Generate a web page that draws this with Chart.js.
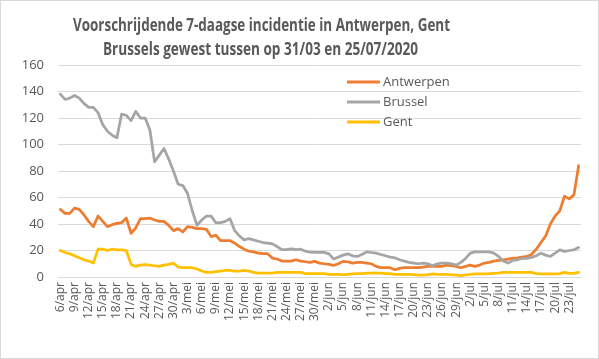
<!DOCTYPE html>
<html>
<head>
<meta charset="utf-8">
<script src="https://cdn.jsdelivr.net/npm/chart.js@4/dist/chart.umd.min.js"></script>
<style>
  html, body { margin: 0; padding: 0; background: #ffffff; }
  #wrap { position: relative; width: 599px; height: 359px; }
  canvas { display: block; }
</style>
</head>
<body>
<div id="wrap"><canvas id="c" width="599" height="359"></canvas></div>
<script>
const titleLines = [
  "Voorschrijdende 7-daagse incidentie in Antwerpen, Gent",
  "Brussels gewest tussen op 31/03 en 25/07/2020"
];

const categories = [
  "6/apr","7/apr","8/apr","9/apr","10/apr","11/apr","12/apr","13/apr","14/apr","15/apr",
  "16/apr","17/apr","18/apr","19/apr","20/apr","21/apr","22/apr","23/apr","24/apr","25/apr",
  "26/apr","27/apr","28/apr","29/apr","30/apr",
  "1/mei","2/mei","3/mei","4/mei","5/mei","6/mei","7/mei","8/mei","9/mei","10/mei",
  "11/mei","12/mei","13/mei","14/mei","15/mei","16/mei","17/mei","18/mei","19/mei","20/mei",
  "21/mei","22/mei","23/mei","24/mei","25/mei","26/mei","27/mei","28/mei","29/mei","30/mei","31/mei",
  "1/jun","2/jun","3/jun","4/jun","5/jun","6/jun","7/jun","8/jun","9/jun","10/jun",
  "11/jun","12/jun","13/jun","14/jun","15/jun","16/jun","17/jun","18/jun","19/jun","20/jun",
  "21/jun","22/jun","23/jun","24/jun","25/jun","26/jun","27/jun","28/jun","29/jun","30/jun",
  "1/jul","2/jul","3/jul","4/jul","5/jul","6/jul","7/jul","8/jul","9/jul","10/jul",
  "11/jul","12/jul","13/jul","14/jul","15/jul","16/jul","17/jul","18/jul","19/jul","20/jul",
  "21/jul","22/jul","23/jul","24/jul","25/jul"
];

const seriesNames = ["Antwerpen", "Brussel", "Gent"];

const antwerpen = [
  51,48,48,52,51,47,42,38,46,42,
  38,39.5,40.5,41,44.5,33,37,44,44,44.5,
  43,42,42,39,35,36.5,34,38,37.5,36.5,
  36.5,36,30.5,31.5,27.5,27.5,27.5,25.5,23,21,
  19.5,19,18,17.6,17.6,14.3,13.6,12,12,12,
  13,12,11.5,11,11.8,10.5,10,9.5,8.8,10,
  11.8,11.5,10.5,11,11,10.5,10,8,7,7,
  7,5.5,6.5,7,7,7,7,7.5,8,8,
  8,8,9,8.5,8,7,8,9,8,9,
  10.5,11,12,12.5,13,13.5,14.3,14.5,15,15.5,
  17,21,26,31,40,46,50,61,59,62,84
];

const brussel = [
  138,134,135,137,135,131,128,128,124,115,
  110,107,105,123,122,118,125,120,120,111,
  87,92,97,89,80,70,69,63,50,39,
  43,46,46,41,41,42,44,35,31,28,
  29,28,27,26,25.5,25,23,20.6,20.6,21.3,
  20.6,21,19.5,18.7,18.6,18.6,18.6,17.5,13.6,15,
  16.5,17.5,16,15.5,17,19,18.5,18,17,16,
  15,14.5,13,12,11,10.5,10,10.5,10,8.5,
  10,10.5,10.5,10,9,11,14,18,19,19,
  19,19,18,15.5,12,10.5,12.5,13,14,14,
  14.8,16,18,16.5,15.5,18,20.5,19.3,20,20.5,22.3
];

const gent = [
  20,18.5,17.5,16,14.5,13,12,10.5,21,21,
  20,21,20.5,20.5,20,9.5,8,9,9.3,9,
  8.5,8,9,9.5,10.5,7.5,7,7,7,6,
  4.5,3.5,3.5,4,4.5,5,5,4.5,4.5,5,
  4.5,3.5,3,3,3,3,3.5,3.5,3.5,3.5,
  3.5,3.5,2.5,2.5,2.5,2.5,2.5,2,2,2,
  1.7,2,2.3,2.5,2.5,3,3,3,3,2.5,
  2.5,2,2,2,2,1.7,1.5,1.5,1.7,2.3,
  2,2,2,1.7,1.5,1,1.5,2,2.3,2.3,
  2.3,2.5,2.8,3,3.5,3.5,3.5,3.5,3.5,3.5,
  3.5,2.5,2.3,2.3,2.3,2.3,2.5,3.5,2.8,2.8,3.5
];

const yTicks = [0, 20, 40, 60, 80, 100, 120, 140, 160];

const COLORS = { Antwerpen: "#ED7D31", Brussel: "#A5A5A5", Gent: "#FFC000" };
const TEXT = "#595959";
const GRID = "#D9D9D9";

const titleAndFrame = {
  id: "titleAndFrame",
  beforeDraw(chart) {
    const ctx = chart.ctx;
    ctx.save();
    ctx.fillStyle = "#ffffff";
    ctx.fillRect(0, 0, chart.width, chart.height);
    ctx.restore();
  },
  afterDraw(chart) {
    const ctx = chart.ctx;
    ctx.save();
    ctx.strokeStyle = GRID;
    ctx.lineWidth = 1;
    ctx.strokeRect(0.5, 0.5, chart.width - 1, chart.height - 1);
    ctx.fillStyle = TEXT;
    ctx.textAlign = "center";
    ctx.textBaseline = "alphabetic";
    ctx.font = "bold 17px 'Liberation Sans Narrow', 'Open Sans', sans-serif";
    ctx.fillText(titleLines[0], 261.5, 31, 377);
    ctx.fillText(titleLines[1], 260.5, 54.5, 315);
    // legend
    const area = chart.chartArea;
    const lx0 = 347, lx1 = 380, tx = 383;
    const rows = [82, 102, 122];
    ctx.textAlign = "left";
    ctx.textBaseline = "middle";
    ctx.font = "13px 'Open Sans', sans-serif";
    chart.data.datasets.forEach((ds, i) => {
      ctx.strokeStyle = ds.borderColor;
      ctx.lineWidth = 3;
      ctx.lineCap = "butt";
      ctx.beginPath();
      ctx.moveTo(lx0, rows[i]);
      ctx.lineTo(lx1, rows[i]);
      ctx.stroke();
      ctx.fillStyle = TEXT;
      ctx.fillText(ds.label, tx, rows[i] + 0.5);
    });
    ctx.restore();
  }
};

const seriesData = [antwerpen, brussel, gent];

new Chart(document.getElementById("c"), {
  type: "line",
  data: {
    labels: categories,
    datasets: seriesNames.map((name, i) => ({
      label: name,
      data: seriesData[i],
      borderColor: COLORS[name],
      backgroundColor: COLORS[name],
      borderWidth: 2.75,
      pointRadius: 0,
      tension: 0,
      fill: false,
      borderJoinStyle: "round",
      borderCapStyle: "round",
      order: 3 - i
    }))
  },
  options: {
    responsive: false,
    devicePixelRatio: 1,
    animation: false,
    layout: { padding: { top: 65, right: 18, bottom: 0, left: 0 } },
    plugins: {
      legend: { display: false },
      title: { display: false },
      tooltip: { enabled: false }
    },
    scales: {
      x: {
        type: "category",
        offset: true,
        grid: { display: false, drawTicks: false },
        border: { display: false },
        ticks: {
          autoSkip: false,
          maxRotation: 90,
          minRotation: 90,
          padding: 5,
          color: TEXT,
          font: { family: "'Open Sans', sans-serif", size: 12 },
          callback: function (value, index) {
            return index % 3 === 0 ? categories[index] : "";
          }
        },
        afterFit(scale) { scale.height = 82; }
      },
      y: {
        min: 0,
        max: 160,
        afterBuildTicks(scale) { scale.ticks = yTicks.map(v => ({ value: v })); },
        grid: { color: GRID, lineWidth: 1, drawTicks: false },
        border: { display: false },
        ticks: {
          padding: 14,
          color: TEXT,
          font: { family: "'Open Sans', sans-serif", size: 13 }
        },
        afterFit(scale) { scale.width = 58; }
      }
    }
  },
  plugins: [titleAndFrame]
});
</script>
</body>
</html>
